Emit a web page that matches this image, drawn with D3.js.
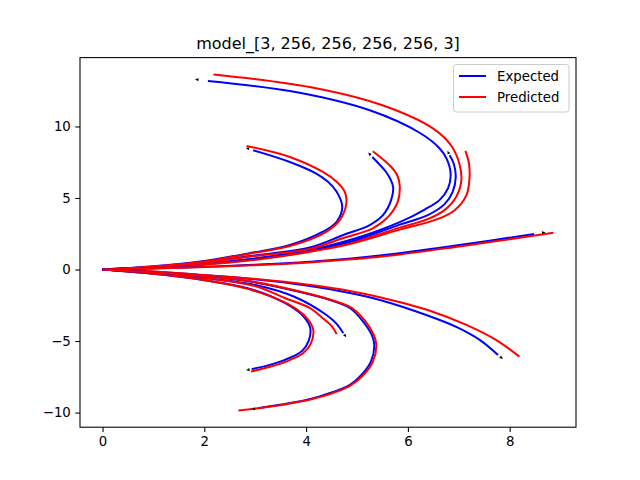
<!DOCTYPE html>
<html>
<head>
<meta charset="utf-8">
<script src="https://cdn.jsdelivr.net/npm/d3@7"></script>
<style>
  body { margin: 0; background: #fff; }
  svg { font-family: "DejaVu Sans", sans-serif; }
</style>
</head>
<body>
<svg id="chart" width="640" height="480"></svg>
<script>
"use strict";

// chart texts:
var title = "model_[3, 256, 256, 256, 256, 3]";
var seriesNames = ["Expected", "Predicted"];
var seriesColors = ["#0000ff", "#ff0000"];
var xTicks = [0, 2, 4, 6, 8];
var yTicks = [-10, -5, 0, 5, 10];

// trajectories, [x, y] from the origin outward:
var exp1 = [[0,0],[0.94,0.12],[1.92,0.35],[2.90,0.70],[3.88,1.22],[4.86,2.06],[5.84,3.31],[6.33,4.19],[6.62,4.85],[6.79,5.69],[6.84,6.70],[6.76,7.75],[6.62,8.48],[6.23,9.56],[5.25,11.13],[3.82,12.39],[2.07,13.18]];
var pred1 = [[0,0],[0.94,0.12],[1.92,0.33],[2.90,0.66],[3.88,1.15],[4.86,1.85],[5.84,2.93],[6.39,3.52],[6.72,4.15],[6.95,5.08],[7.05,6.25],[7.01,7.41],[6.86,8.62],[6.52,9.80],[5.50,11.48],[4.07,12.76],[2.18,13.64]];
var exp2 = [[0,0],[0.94,0.13],[1.92,0.37],[2.90,0.73],[3.88,1.24],[4.86,1.95],[5.84,3.14],[6.39,3.80],[6.72,4.57],[6.88,5.43],[6.94,6.46],[6.90,7.41],[6.82,7.99]];
var pred2 = [[0,0],[0.94,0.12],[1.92,0.32],[2.90,0.64],[3.88,1.12],[4.86,1.78],[5.84,2.79],[6.58,3.52],[6.92,4.15],[7.15,5.20],[7.21,6.36],[7.20,7.41],[7.13,8.29]];
var exp3 = [[0,0],[0.94,0.15],[1.92,0.45],[2.90,0.94],[4.07,1.54],[4.73,2.41],[5.25,3.11],[5.51,3.80],[5.67,4.85],[5.71,5.76],[5.65,6.36],[5.56,6.87],[5.30,7.87]];
var pred3 = [[0,0],[0.94,0.15],[1.92,0.44],[2.90,0.91],[4.07,1.43],[4.73,2.20],[5.31,2.88],[5.61,3.68],[5.80,4.73],[5.84,5.83],[5.79,6.59],[5.66,7.22],[5.31,8.27]];
var exp4 = [[0,0],[0.94,0.21],[1.92,0.56],[2.90,1.15],[3.68,1.71],[4.33,2.64],[4.60,3.34],[4.71,4.38],[4.60,5.43],[4.43,6.13],[4.20,6.71],[3.68,7.52],[2.96,8.34]];
var pred4 = [[0,0],[0.94,0.19],[1.92,0.52],[2.90,1.12],[3.68,1.64],[4.37,2.58],[4.66,3.45],[4.79,4.62],[4.76,5.43],[4.60,6.13],[4.33,6.82],[3.68,7.87],[2.83,8.64]];
var exp5 = [[0,0],[1.13,0.08],[2.31,0.23],[3.29,0.38],[4.27,0.59],[5.45,0.98],[7.01,1.71],[8.48,2.48]];
var pred5 = [[0,0],[1.13,0.08],[2.31,0.21],[3.29,0.35],[4.27,0.55],[5.45,0.89],[7.01,1.61],[8.86,2.57]];
var exp6 = [[0,0],[0.94,-0.14],[1.92,-0.38],[2.90,-0.66],[4.01,-1.12],[4.86,-1.64],[5.45,-2.13],[6.36,-3.18],[6.95,-4.01],[7.41,-4.92],[7.77,-5.97]];
var pred6 = [[0,0],[0.94,-0.13],[1.92,-0.37],[2.90,-0.63],[4.01,-1.05],[4.86,-1.50],[5.45,-1.94],[6.43,-2.88],[7.15,-3.87],[7.73,-4.92],[8.19,-6.09]];
var exp7 = [[0,0],[0.94,-0.28],[1.92,-0.70],[2.90,-1.36],[3.58,-2.34],[3.94,-3.25],[4.08,-4.08],[4.05,-4.99],[3.92,-5.69],[3.58,-6.32],[3.25,-6.70],[2.93,-6.96]];
var pred7 = [[0,0],[0.94,-0.28],[1.92,-0.70],[2.90,-1.40],[3.64,-2.41],[4.01,-3.38],[4.14,-4.22],[4.09,-5.20],[3.94,-5.86],[3.62,-6.42],[3.29,-6.80],[2.92,-7.13]];
var exp8 = [[0,0],[0.94,-0.23],[1.92,-0.56],[3.09,-1.15],[3.78,-1.92],[4.40,-3.18],[4.60,-3.80],[4.73,-4.45]];
var pred8 = [[0,0],[0.94,-0.23],[1.92,-0.56],[2.99,-1.15],[3.58,-1.99],[4.07,-2.69],[4.33,-3.41],[4.50,-3.94],[4.60,-4.52]];
var exp9 = [[0,0],[0.94,-0.20],[1.92,-0.45],[2.90,-0.84],[3.88,-1.57],[4.47,-2.13],[4.86,-2.69],[5.12,-3.64],[5.29,-4.57],[5.34,-5.27],[5.27,-6.46],[5.09,-7.36],[4.86,-8.06],[4.14,-8.99],[3.48,-9.46],[3.05,-9.70]];
var pred9 = [[0,0],[0.94,-0.20],[1.92,-0.44],[2.90,-0.82],[3.88,-1.54],[4.47,-2.10],[4.90,-2.69],[5.17,-3.64],[5.33,-4.57],[5.38,-5.27],[5.31,-6.46],[5.13,-7.36],[4.86,-8.13],[4.14,-9.04],[3.48,-9.49],[2.67,-9.85]];

var expected = [exp1, exp2, exp3, exp4, exp5, exp6, exp7, exp8, exp9];
var predicted = [pred1, pred2, pred3, pred4, pred5, pred6, pred7, pred8, pred9];

// layout (matplotlib default axes box):
var W = 640, H = 480;
var margin = { left: 80, right: 64, top: 57.6, bottom: 52.8 };
var plotW = W - margin.left - margin.right;
var plotH = H - margin.top - margin.bottom;

var svg = d3.select("#chart");
var g = svg.append("g").attr("transform", "translate(" + margin.left + "," + margin.top + ")");

// domains from data with 5% padding:
var all = d3.merge(expected.concat(predicted));
var xExt = d3.extent(all, function (d) { return d[0]; });
var yExt = d3.extent(all, function (d) { return d[1]; });
var xPad = (xExt[1] - xExt[0]) * 0.05, yPad = (yExt[1] - yExt[0]) * 0.05;

var x = d3.scaleLinear().domain([xExt[0] - xPad, xExt[1] + xPad]).range([0, plotW]);
var y = d3.scaleLinear().domain([yExt[0] - yPad, yExt[1] + yPad]).range([plotH, 0]);

var line = d3.line()
  .x(function (d) { return x(d[0]); })
  .y(function (d) { return y(d[1]); })
  .curve(d3.curveCatmullRom.alpha(0.5));

g.append("defs").append("clipPath").attr("id", "clip")
  .append("rect").attr("width", plotW).attr("height", plotH);

var plot = g.append("g").attr("clip-path", "url(#clip)");

// draw the trajectories, each expected then its prediction:
expected.forEach(function (trj, i) {
  plot.append("path").datum(trj)
    .attr("d", line)
    .attr("fill", "none")
    .attr("stroke", seriesColors[0])
    .attr("stroke-width", 2);
  plot.append("path").datum(predicted[i])
    .attr("d", line)
    .attr("fill", "none")
    .attr("stroke", seriesColors[1])
    .attr("stroke-width", 2);
});

// tiny black arrow head just past where each expected trajectory stops:
expected.forEach(function (trj) {
  var a = trj[trj.length - 2], b = trj[trj.length - 1];
  var dx = x(b[0]) - x(a[0]), dy = y(b[1]) - y(a[1]);
  var seg = Math.sqrt(dx * dx + dy * dy);
  var ang = Math.atan2(dy, dx);
  var off = Math.min(9, 0.1 * seg) + 0.5;
  var bx = x(b[0]) + off * Math.cos(ang), by = y(b[1]) + off * Math.sin(ang);
  var len = 3.5, hw = 1.5;
  var tip = [bx + len * Math.cos(ang), by + len * Math.sin(ang)];
  var l = [bx - hw * Math.sin(ang), by + hw * Math.cos(ang)];
  var r = [bx + hw * Math.sin(ang), by - hw * Math.cos(ang)];
  plot.append("polygon")
    .attr("points", [tip, l, r].map(function (p) { return p.join(","); }).join(" "))
    .attr("fill", "#000");
});

// axes:
var xAxis = d3.axisBottom(x).tickValues(xTicks).tickSize(4.7).tickPadding(4.5).tickFormat(d3.format("d"));
var yAxis = d3.axisLeft(y).tickValues(yTicks).tickSize(4.7).tickPadding(4.5)
  .tickFormat(function (d) { return d < 0 ? "\u2212" + Math.abs(d) : d; });

var gx = g.append("g").attr("transform", "translate(0," + plotH + ")").call(xAxis);
var gy = g.append("g").call(yAxis);
[gx, gy].forEach(function (ax) {
  ax.select(".domain").remove();
  ax.selectAll(".tick line").attr("stroke", "#000").attr("stroke-width", 1.07);
  ax.selectAll(".tick text").attr("fill", "#000").style("font-size", "13.3px")
    .style("font-family", "DejaVu Sans, sans-serif");
});

g.append("rect")
  .attr("width", plotW).attr("height", plotH)
  .attr("fill", "none").attr("stroke", "#000").attr("stroke-width", 1.07);

// title:
svg.append("text")
  .attr("x", margin.left + plotW / 2).attr("y", margin.top - 8.5)
  .attr("text-anchor", "middle")
  .style("font-size", "16px")
  .text(title);

// legend:
var lg = svg.append("g");
lg.append("rect")
  .attr("x", 453.5).attr("y", 64.5).attr("width", 115.5).attr("height", 47.5)
  .attr("rx", 2.7).attr("ry", 2.7)
  .attr("fill", "#fff").attr("fill-opacity", 0.8)
  .attr("stroke", "#cccccc").attr("stroke-width", 1);
seriesNames.forEach(function (name, i) {
  var cy = 76 + i * 21;
  lg.append("line")
    .attr("x1", 459).attr("x2", 486).attr("y1", cy).attr("y2", cy)
    .attr("stroke", seriesColors[i]).attr("stroke-width", 2);
  lg.append("text")
    .attr("x", 497).attr("y", cy + 4.8)
    .style("font-size", "13.3px")
    .text(name);
});
</script>
</body>
</html>
